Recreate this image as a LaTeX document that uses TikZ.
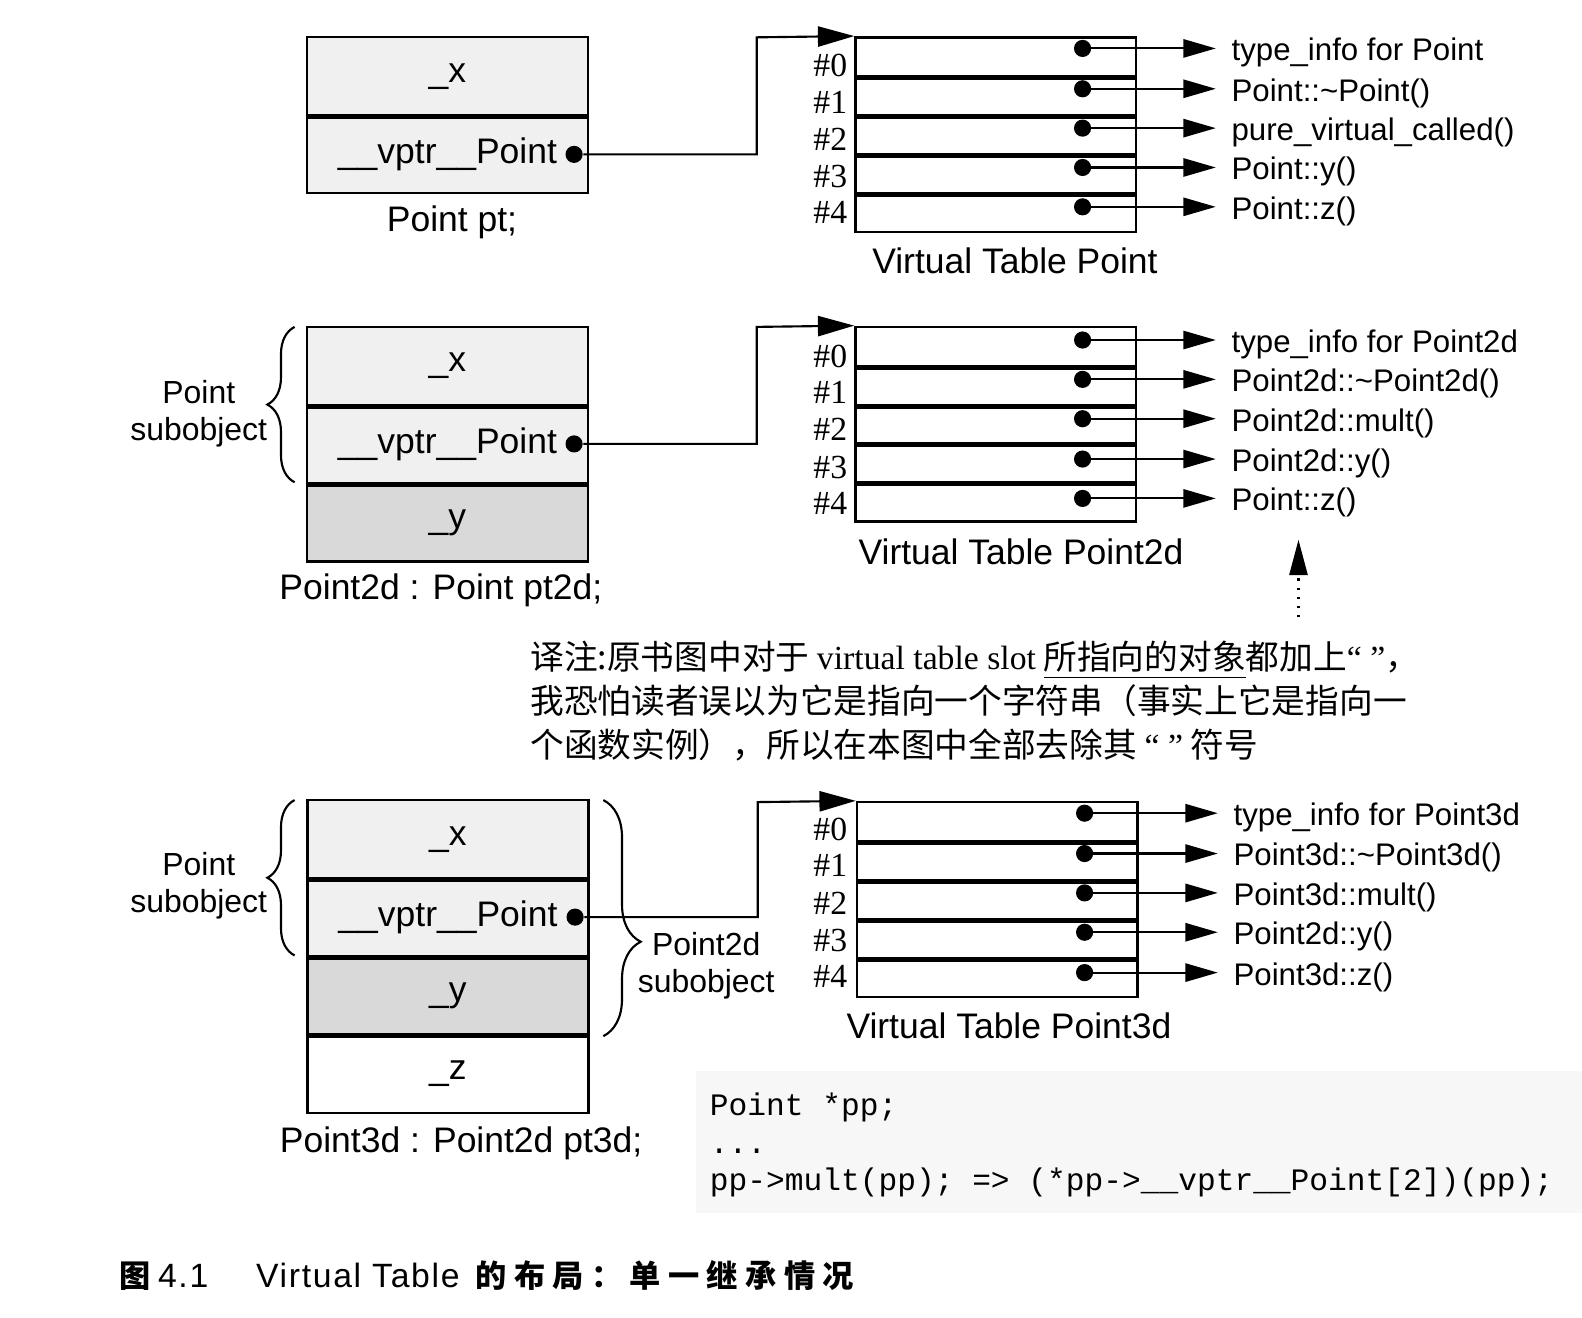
\documentclass[tikz,border=0pt]{standalone}
\usepackage{fontspec}
\setmainfont{Liberation Sans}
\setmonofont{Liberation Mono}
\newfontfamily\numfont{Liberation Serif}
\newfontfamily\cjk{Noto Sans CJK SC}
\newfontfamily\capcjk[LetterSpace=23.5]{Noto Sans CJK SC}
\newfontfamily\capsans[LetterSpace=5]{Liberation Sans}
\usetikzlibrary{arrows.meta, decorations.pathreplacing}

\begin{document}
\begin{tikzpicture}[
    x=0.01cm, y=-0.01cm,
    field/.style={draw=black, line width=0.7pt, fill=black!6, minimum width=2.78cm, minimum height=0.775cm, inner sep=0pt, font=\fontsize{10}{12}\selectfont},
    dark field/.style={field, fill=black!15},
    white field/.style={field, fill=white},
    slot/.style={draw=black, line width=0.7pt, fill=white, minimum width=2.78cm, minimum height=0.386cm, inner sep=0pt},
    sep line/.style={line width=1.4pt},
    ptr dot/.style={circle, fill=black, inner sep=0pt, minimum size=1.7mm},
    slot no/.style={inner sep=0pt, font=\numfont\fontsize{9.5}{11}\selectfont},
    fn label/.style={anchor=west, inner sep=0pt, text height=8pt, text depth=1pt, font=\fontsize{8.8}{10}\selectfont},
    title/.style={inner sep=0pt, font=\fontsize{10}{12}\selectfont},
    sub label/.style={inner sep=0pt, align=center, font=\fontsize{9}{10.3}\selectfont},
    vptr line/.style={line width=0.6pt, -{Triangle[length=3.6mm, width=2mm]}},
    fn arrow/.style={line width=0.6pt, -{Triangle[length=3.2mm, width=1.8mm]}, shorten >=1.5mm},
    lbrace/.style={line width=0.6pt, decorate, decoration={brace, amplitude=2.7mm}},
    rbrace/.style={line width=0.6pt, decorate, decoration={brace, amplitude=3.7mm, aspect=0.6}}
]
\useasboundingbox (0,0) rectangle (1568,1306);

% ---------- Point pt ----------
\node[field] (O1x) at (443.5, 75.5) {\_x};
\node[field] (O1v) at (443.5,152.5) {\_\_vptr\_\_Point};
\draw[sep line] (O1x.south west) -- (O1x.south east);
\node[ptr dot] (O1d) at (569,153) {};
\node[title] (O1n) at (448,220) {Point pt;};

% 虚表 Point
\node[slot] (T1r0) at (987, 56.3) {};
\node[slot] (T1r1) at (987, 94.9) {};
\node[slot] (T1r2) at (987,133.5) {};
\node[slot] (T1r3) at (987,172.1) {};
\node[slot] (T1r4) at (987,210.7) {};
\draw[sep line] (T1r0.south west) -- (T1r0.south east);
\draw[sep line] (T1r1.south west) -- (T1r1.south east);
\draw[sep line] (T1r2.south west) -- (T1r2.south east);
\draw[sep line] (T1r3.south west) -- (T1r3.south east);
\node[slot no] (T1n0) at (823, 65) {\#0};
\node[slot no] (T1n1) at (823,101) {\#1};
\node[slot no] (T1n2) at (823,138) {\#2};
\node[slot no] (T1n3) at (823,175) {\#3};
\node[slot no] (T1n4) at (823,211) {\#4};
\node[ptr dot] (T1d0) at (1073, 48) {};
\node[ptr dot] (T1d1) at (1073, 88) {};
\node[ptr dot] (T1d2) at (1073,127) {};
\node[ptr dot] (T1d3) at (1073,166) {};
\node[ptr dot] (T1d4) at (1073,205) {};
\node[fn label] (T1f0) at (1220, 48) {type\_info for Point};
\node[fn label] (T1f1) at (1220, 88) {Point::\textasciitilde Point()};
\node[fn label] (T1f2) at (1220,127) {pure\_virtual\_called()};
\node[fn label] (T1f3) at (1220,166) {Point::y()};
\node[fn label] (T1f4) at (1220,205) {Point::z()};
\draw[fn arrow] (T1d0.center) -- (T1f0.west);
\draw[fn arrow] (T1d1.center) -- (T1f1.west);
\draw[fn arrow] (T1d2.center) -- (T1f2.west);
\draw[fn arrow] (T1d3.center) -- (T1f3.west);
\draw[fn arrow] (T1d4.center) -- (T1f4.west);
\node[title] (T1t) at (1006,259) {Virtual Table Point};
\coordinate (B1) at (750,37);
\draw[vptr line] (O1d) -| (B1) -- (T1r0.north west);

% ---------- Point2d pt2d ----------
\node[field] (O2x) at (443.5,362.75) {\_x};
\node[field] (O2v) at (443.5,440.25) {\_\_vptr\_\_Point};
\node[dark field] (O2y) at (443.5,517.75) {\_y};
\draw[sep line] (O2x.south west) -- (O2x.south east);
\draw[sep line] (O2v.south west) -- (O2v.south east);
\node[ptr dot] (O2d) at (569,440) {};
\node[title] (O2n) at (437,585) {Point2d : Point pt2d;};
\draw[lbrace] (292,478) -- (292,324);
\node[sub label] (S2) at (197,410) {Point\\subobject};

% 虚表 Point2d
\node[slot] (T2r0) at (987,343.3) {};
\node[slot] (T2r1) at (987,381.9) {};
\node[slot] (T2r2) at (987,420.5) {};
\node[slot] (T2r3) at (987,459.1) {};
\node[slot] (T2r4) at (987,497.7) {};
\draw[sep line] (T2r0.south west) -- (T2r0.south east);
\draw[sep line] (T2r1.south west) -- (T2r1.south east);
\draw[sep line] (T2r2.south west) -- (T2r2.south east);
\draw[sep line] (T2r3.south west) -- (T2r3.south east);
\node[slot no] (T2n0) at (823,353) {\#0};
\node[slot no] (T2n1) at (823,389) {\#1};
\node[slot no] (T2n2) at (823,426) {\#2};
\node[slot no] (T2n3) at (823,463) {\#3};
\node[slot no] (T2n4) at (823,499) {\#4};
\node[ptr dot] (T2d0) at (1073,337) {};
\node[ptr dot] (T2d1) at (1073,376) {};
\node[ptr dot] (T2d2) at (1073,415) {};
\node[ptr dot] (T2d3) at (1073,455) {};
\node[ptr dot] (T2d4) at (1073,494) {};
\node[fn label] (T2f0) at (1220,337) {type\_info for Point2d};
\node[fn label] (T2f1) at (1220,376) {Point2d::\textasciitilde Point2d()};
\node[fn label] (T2f2) at (1220,415) {Point2d::mult()};
\node[fn label] (T2f3) at (1220,455) {Point2d::y()};
\node[fn label] (T2f4) at (1220,494) {Point::z()};
\draw[fn arrow] (T2d0.center) -- (T2f0.west);
\draw[fn arrow] (T2d1.center) -- (T2f1.west);
\draw[fn arrow] (T2d2.center) -- (T2f2.west);
\draw[fn arrow] (T2d3.center) -- (T2f3.west);
\draw[fn arrow] (T2d4.center) -- (T2f4.west);
\node[title] (T2t) at (1012,547) {Virtual Table Point2d};
\coordinate (B2) at (750,324);
\draw[vptr line] (O2d) -| (B2) -- (T2r0.north west);

% 译注
\node[anchor=west, inner sep=0pt, align=left, font=\cjk\fontsize{9.5}{12.3}\selectfont] (N) at (525,695)
    {译注:原书图中对于 {\numfont virtual table slot} \underline{所指向的对象}都加上{\numfont“ ”}，\\
     我恐怕读者误以为它是指向一个字符串（事实上它是指向一\\
     个函数实例），所以在本图中全部去除其 {\numfont“ ”} 符号};
\coordinate (N0) at (1287,612);
\coordinate (N1) at (1287,535);
\draw[line width=0.6pt, dotted, -{Triangle[length=3.5mm, width=1.8mm]}] (N0) -- (N1);

% ---------- Point3d pt3d ----------
\node[field] (O3x) at (444,831.75) {\_x};
\node[field] (O3v) at (444,909.25) {\_\_vptr\_\_Point};
\node[dark field] (O3y) at (444,986.75) {\_y};
\node[white field] (O3z) at (444,1064.25) {\_z};
\draw[sep line] (O3x.south west) -- (O3x.south east);
\draw[sep line] (O3v.south west) -- (O3v.south east);
\draw[sep line] (O3y.south west) -- (O3y.south east);
\node[ptr dot] (O3d) at (570,909) {};
\node[title] (O3n) at (457,1133) {Point3d : Point2d pt3d;};
\draw[lbrace] (292,947) -- (292,793);
\node[sub label] (S3) at (197,878) {Point\\subobject};
\draw[rbrace] (598,793) -- (598,1027);
\node[sub label] (S4) at (700,957) {Point2d\\subobject};

% 虚表 Point3d
\node[slot] (T3r0) at (988.5,814.3) {};
\node[slot] (T3r1) at (988.5,852.9) {};
\node[slot] (T3r2) at (988.5,891.5) {};
\node[slot] (T3r3) at (988.5,930.1) {};
\node[slot] (T3r4) at (988.5,968.7) {};
\draw[sep line] (T3r0.south west) -- (T3r0.south east);
\draw[sep line] (T3r1.south west) -- (T3r1.south east);
\draw[sep line] (T3r2.south west) -- (T3r2.south east);
\draw[sep line] (T3r3.south west) -- (T3r3.south east);
\node[slot no] (T3n0) at (823,822) {\#0};
\node[slot no] (T3n1) at (823,858) {\#1};
\node[slot no] (T3n2) at (823,895) {\#2};
\node[slot no] (T3n3) at (823,932) {\#3};
\node[slot no] (T3n4) at (823,968) {\#4};
\node[ptr dot] (T3d0) at (1075,806) {};
\node[ptr dot] (T3d1) at (1075,846) {};
\node[ptr dot] (T3d2) at (1075,885) {};
\node[ptr dot] (T3d3) at (1075,924) {};
\node[ptr dot] (T3d4) at (1075,964) {};
\node[fn label] (T3f0) at (1222,806) {type\_info for Point3d};
\node[fn label] (T3f1) at (1222,846) {Point3d::\textasciitilde Point3d()};
\node[fn label] (T3f2) at (1222,885) {Point3d::mult()};
\node[fn label] (T3f3) at (1222,924) {Point2d::y()};
\node[fn label] (T3f4) at (1222,964) {Point3d::z()};
\draw[fn arrow] (T3d0.center) -- (T3f0.west);
\draw[fn arrow] (T3d1.center) -- (T3f1.west);
\draw[fn arrow] (T3d2.center) -- (T3f2.west);
\draw[fn arrow] (T3d3.center) -- (T3f3.west);
\draw[fn arrow] (T3d4.center) -- (T3f4.west);
\node[title] (T3t) at (1000,1017) {Virtual Table Point3d};
\coordinate (B3) at (751,795);
\draw[vptr line] (O3d) -| (B3) -- (T3r0.north west);

% 代码
\fill[black!3] (690,1062) rectangle (1568,1202);
\node[anchor=west, inner sep=0pt, align=left, font=\ttfamily\fontsize{8.8}{10.5}\selectfont] (K) at (703,1135)
    {Point *pp;\\
     ...\\
     pp->mult(pp); => (*pp->\_\_vptr\_\_Point[2])(pp);};

% 图题
\node[anchor=west, inner sep=0pt, font=\fontsize{9.5}{11}\selectfont] (Cap) at (118,1264)
    {{\capcjk\bfseries\fontsize{8.8}{11}\selectfont 图}\hspace{2pt}{\capsans 4.1}\hspace{13.5pt}{\capsans Virtual Table}\hspace{4.5pt}{\capcjk\bfseries\fontsize{8.8}{11}\selectfont 的布局：单一继承情况}};

\end{tikzpicture}
\end{document}
